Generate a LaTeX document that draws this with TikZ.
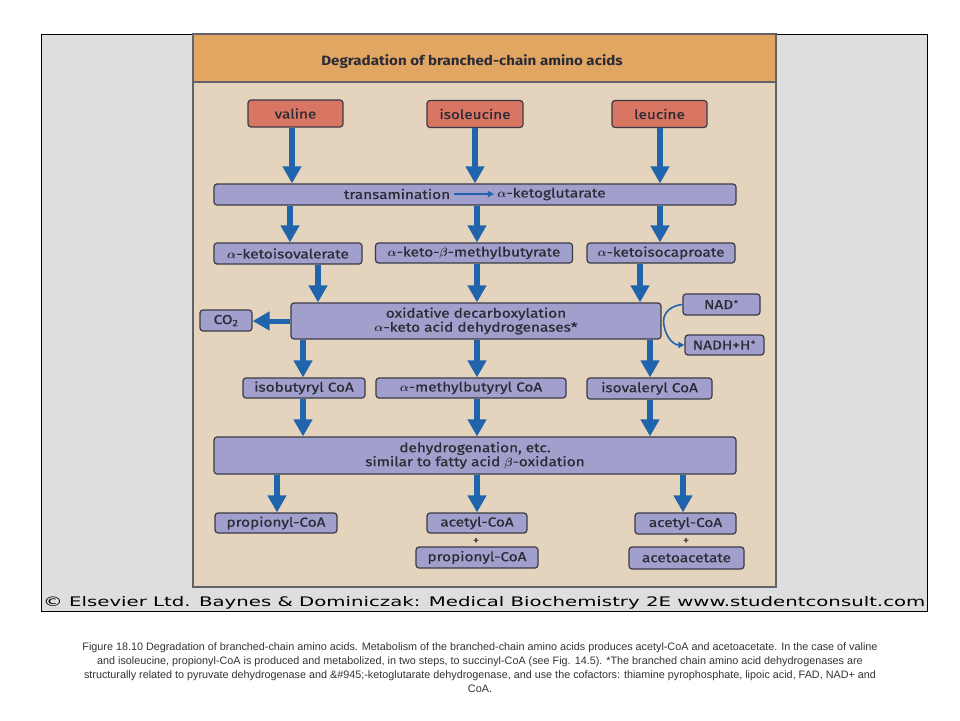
\documentclass[tikz,border=0pt]{standalone}
\usepackage{amsmath}
\usepackage{fontspec}
\usepackage{graphicx}
\setmainfont{Fira Sans}
\newfontfamily\boxfont[FakeStretch=1.18, FakeBold=0.6]{Fira Sans}
\newfontfamily\titlefont[FakeStretch=1.12]{Fira Sans}
\newfontfamily\copyfont{DejaVu Sans}
\newfontfamily\capfont{Liberation Sans}
\usetikzlibrary{arrows.meta}

\definecolor{framegray}{HTML}{DEDEDE}
\definecolor{paper}{HTML}{E4D4BE}
\definecolor{header}{HTML}{E2A663}
\definecolor{aminored}{HTML}{D97563}
\definecolor{boxblue}{HTML}{A19FCB}
\definecolor{flowblue}{HTML}{1F64AD}
\definecolor{edge}{HTML}{3B3B45}
\definecolor{ink}{HTML}{2B2B35}

\newcommand{\ga}{$\boldsymbol{\alpha}$}
\newcommand{\gb}{$\boldsymbol{\beta}$}

\tikzset{
  amino/.style={draw=edge, fill=aminored, line width=1.2pt, rounded corners=3pt,
    inner sep=0pt, text=ink, font=\boxfont\fontsize{13}{14}\selectfont},
  stepbox/.style={draw=edge, fill=boxblue, line width=1.2pt, rounded corners=3pt,
    inner sep=0pt, text=ink, align=center, font=\boxfont\fontsize{13}{14}\selectfont},
  label/.style={text=ink, font=\boxfont\fontsize{13}{14}\selectfont},
  flow/.style={draw=flowblue, line width=6.5pt, -{Triangle[width=18pt,length=17pt]}},
  cofactor/.style={draw=flowblue, line width=1.6pt, -{Triangle[width=6pt,length=6pt]}},
}

\begin{document}
\begin{tikzpicture}[x=1pt, y=-1pt]
    \useasboundingbox (0,0) rectangle (960,720);
    % frame and panel
    \fill[white] (0,0) rectangle (960,720);
    \draw[fill=framegray, line width=1pt] (41,34) rectangle (927,611);
    \draw[fill=paper, draw=edge!80, line width=1.5pt] (193,34) rectangle (776,587);
    \draw[fill=header, draw=edge!80, line width=1.5pt] (193,34) rectangle (776,82);
    \node[text=ink, font=\titlefont\bfseries\fontsize{13.5}{15}\selectfont] (title) at (472,62) {Degradation of branched-chain amino acids};

    % amino acids
    \node[amino, minimum width=95pt, minimum height=27pt] (valine) at (295.5,113.5) {valine};
    \node[amino, minimum width=96pt, minimum height=27pt] (isoleucine) at (475,114) {isoleucine};
    \node[amino, minimum width=95pt, minimum height=27pt] (leucine) at (659.5,114) {leucine};

    % transamination
    \node[stepbox, minimum width=522pt, minimum height=21pt] (trans) at (475,194.5) {};
    \node[label] (tam) at (397,194) {transamination};
    \node[label] (akg) at (551.5,194) {\ga-ketoglutarate};
    \draw[cofactor] (tam) -- (akg);

    % keto acids
    \node[stepbox, minimum width=148pt, minimum height=21pt] (kiv) at (288,253.5) {\ga-ketoisovalerate};
    \node[stepbox, minimum width=197pt, minimum height=20pt] (kmb) at (474,253) {\ga-keto-\gb-methylbutyrate};
    \node[stepbox, minimum width=148pt, minimum height=20pt] (kic) at (661,253) {\ga-ketoisocaproate};

    % oxidative decarboxylation
    \node[stepbox, minimum width=370pt, minimum height=36pt] (ox) at (476,321) {oxidative decarboxylation\\\ga-keto acid dehydrogenases*};
    \node[stepbox, minimum width=52pt, minimum height=21pt] (co2) at (226,320.5) {CO\textsubscript{2}};
    \node[stepbox, minimum width=77pt, minimum height=21pt] (nad) at (721.5,304.5) {NAD\textsuperscript{+}};
    \node[stepbox, minimum width=79pt, minimum height=20pt] (nadh) at (724.5,345) {NADH+H\textsuperscript{+}};

    % acyl CoA
    \node[stepbox, minimum width=122pt, minimum height=20pt] (ibc) at (304,388) {isobutyryl CoA};
    \node[stepbox, minimum width=190pt, minimum height=20pt] (mbc) at (471,388) {\ga-methylbutyryl CoA};
    \node[stepbox, minimum width=125pt, minimum height=21pt] (ivc) at (649.5,388.5) {isovaleryl CoA};

    % dehydrogenation
    \node[stepbox, minimum width=522pt, minimum height=37pt] (dh) at (475,455.5) {dehydrogenation, etc.\\similar to fatty acid \gb-oxidation};

    % products
    \node[stepbox, minimum width=122pt, minimum height=20pt] (prop1) at (276,523) {propionyl-CoA};
    \node[stepbox, minimum width=100pt, minimum height=20pt] (acet1) at (477,523) {acetyl-CoA};
    \node[label, font=\boxfont\fontsize{11}{12}\selectfont] (plus1) at (476,541) {+};
    \node[stepbox, minimum width=122pt, minimum height=21pt] (prop2) at (477,557.5) {propionyl-CoA};
    \node[stepbox, minimum width=101pt, minimum height=21pt] (acet2) at (685.5,523.5) {acetyl-CoA};
    \node[label, font=\boxfont\fontsize{11}{12}\selectfont] (plus2) at (686,541) {+};
    \node[stepbox, minimum width=115pt, minimum height=22pt] (aca) at (686.5,558) {acetoacetate};

    % valine column
    \draw[flow] ([xshift=-3.5pt]valine.south) -- ([xshift=-3.5pt]valine.south |- trans.north);
    \draw[flow] ([xshift=2pt]kiv.north |- trans.south) -- ([xshift=2pt]kiv.north);
    \draw[flow] ([xshift=30pt]kiv.south) -- ([xshift=30pt]kiv.south |- ox.north);
    \draw[flow] ([xshift=-1pt]ibc.north |- ox.south) -- ([xshift=-1pt]ibc.north);
    \draw[flow] ([xshift=-1pt]ibc.south) -- ([xshift=-1pt]ibc.south |- dh.north);
    \draw[flow] ([xshift=1pt]prop1.north |- dh.south) -- ([xshift=1pt]prop1.north);
    % isoleucine column
    \draw[flow] (isoleucine.south) -- (isoleucine.south |- trans.north);
    \draw[flow] ([xshift=3pt]kmb.north |- trans.south) -- ([xshift=3pt]kmb.north);
    \draw[flow] ([xshift=3pt]kmb.south) -- ([xshift=3pt]kmb.south |- ox.north);
    \draw[flow] ([xshift=6pt]mbc.north |- ox.south) -- ([xshift=6pt]mbc.north);
    \draw[flow] ([xshift=6pt]mbc.south) -- ([xshift=6pt]mbc.south |- dh.north);
    \draw[flow] (acet1.north |- dh.south) -- (acet1.north);
    % leucine column
    \draw[flow] ([xshift=0.5pt]leucine.south) -- ([xshift=0.5pt]leucine.south |- trans.north);
    \draw[flow] ([xshift=-1pt]kic.north |- trans.south) -- ([xshift=-1pt]kic.north);
    \draw[flow] ([xshift=-21pt]kic.south) -- ([xshift=-21pt]kic.south |- ox.north);
    \draw[flow] ([xshift=0.5pt]ivc.north |- ox.south) -- ([xshift=0.5pt]ivc.north);
    \draw[flow] ([xshift=0.5pt]ivc.south) -- ([xshift=0.5pt]ivc.south |- dh.north);
    \draw[flow] ([xshift=-2.5pt]acet2.north |- dh.south) -- ([xshift=-2.5pt]acet2.north);

    % side products
    \draw[flow, line width=5pt] (ox.west) -- (ox.west -| co2.east);
    \draw[cofactor] (nad.west) to[out=185, in=90] ([xshift=2pt]ox.east) to[out=-90, in=180] (nadh.west);

    % credit and caption
    \node[anchor=base west, inner sep=0pt] (credit) at (43,606.5)
        {\resizebox{882pt}{10pt}{\copyfont © Elsevier Ltd. Baynes \& Dominiczak: Medical Biochemistry 2E www.studentconsult.com}};
    \node[align=center, text=black!80, font=\capfont\fontsize{10.8}{14}\selectfont] (caption) at (480,668)
        {Figure 18.10 Degradation of branched-chain amino acids. Metabolism of the branched-chain amino acids produces acetyl-CoA and acetoacetate. In the case of valine\\
         and isoleucine, propionyl-CoA is produced and metabolized, in two steps, to succinyl-CoA (see Fig. 14.5). *The branched chain amino acid dehydrogenases are\\
         structurally related to pyruvate dehydrogenase and \&\#945;-ketoglutarate dehydrogenase, and use the cofactors: thiamine pyrophosphate, lipoic acid, FAD, NAD+ and\\
         CoA.};
\end{tikzpicture}
\end{document}
